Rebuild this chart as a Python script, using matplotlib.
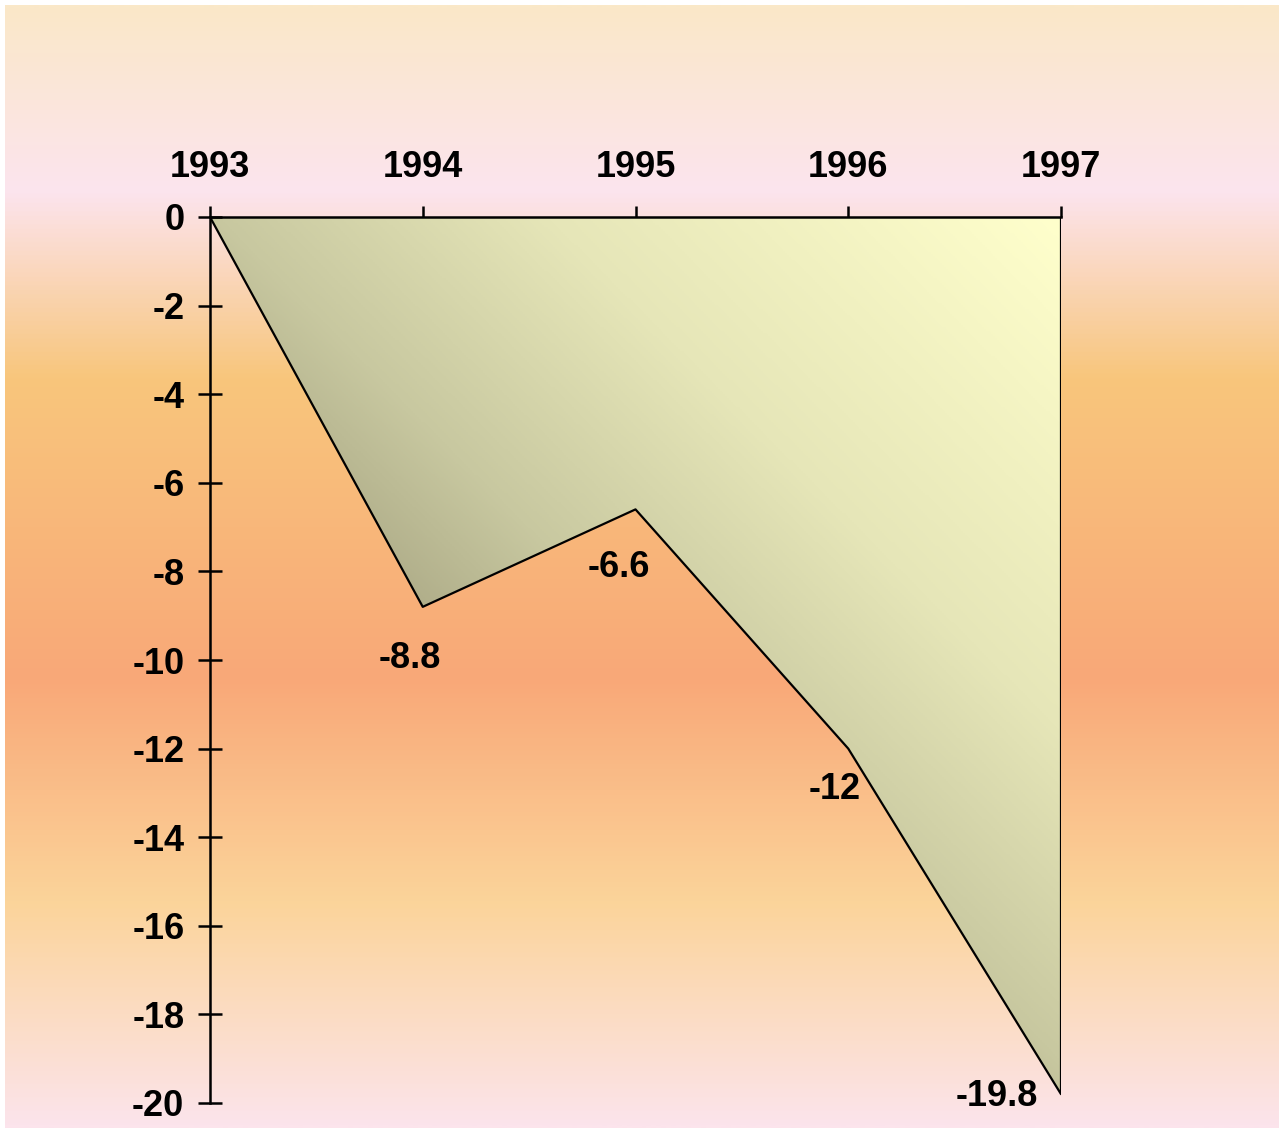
import numpy as np
import matplotlib.pyplot as plt
from matplotlib.colors import LinearSegmentedColormap

# data
years = [1993, 1994, 1995, 1996, 1997]
values = [0, -8.8, -6.6, -12, -19.8]
point_labels = ["", "-8.8", "-6.6", "-12", "-19.8"]
y_ticks = list(range(0, -21, -2))

plt.rcParams["font.family"] = ["Liberation Sans", "DejaVu Sans"]
plt.rcParams["font.weight"] = "bold"

W, H = 1284, 1133
fig = plt.figure(figsize=(W / 100, H / 100), dpi=100, facecolor="white")

# background gradient (vertical bands)
bg = fig.add_axes([5 / W, 5 / H, 1274 / W, 1123 / H], zorder=0)
bg_stops = [(0.0, "#FAE8C8"), (185 / 1123, "#FCE4EE"), (372 / 1123, "#F8C67C"),
            (674 / 1123, "#F9A878"), (898 / 1123, "#FBD49A"), (1.0, "#FCE4EC")]
bg_cmap = LinearSegmentedColormap.from_list("bg", bg_stops)
bg.imshow(np.linspace(0, 1, 512).reshape(-1, 1), aspect="auto", cmap=bg_cmap,
          extent=[0, 1, 1, 0])
bg.axis("off")

ax = fig.add_axes([210 / W, 30 / H, 851 / W, 886 / H], zorder=1)
ax.patch.set_alpha(0)
ax.set_xlim(1993, 1997)
ax.set_ylim(-20, 0)

# area with diagonal gradient (dark lower-left -> light upper-right)
fill = ax.fill_between(years, values, 0, facecolor="none", edgecolor="none")
xs = np.linspace(1993, 1997, 400)
ys = np.linspace(0, -20, 400)
X, Y = np.meshgrid(xs, ys)
proj = 210 + (X - 1993) * 212.75 - (217 - Y * 44.3)
fill_cmap = LinearSegmentedColormap.from_list(
    "fill", [(0.0, "#B0AE8A"), (190 / 1034, "#C8C8A0"), (520 / 1034, "#E6E6B8"),
             (1.0, "#FFFFCC")])
img = ax.imshow((proj + 190) / 1034, cmap=fill_cmap, vmin=0, vmax=1, aspect="auto",
                extent=[1993, 1997, -20, 0], origin="upper", zorder=1)
img.set_clip_path(fill.get_paths()[0], transform=ax.transData)
ax.plot(years + [1997], values + [0], color="black", lw=1.6, zorder=2)

# labels
offsets = [(0, 0), (-13, -52), (-17, -58), (-14, -41), (-64, -2)]
for x, v, lab, off in zip(years, values, point_labels, offsets):
    if lab:
        ax.annotate(lab, (x, v), xytext=(off[0] * 0.72, off[1] * 0.72),
                    textcoords="offset points", ha="center", va="center",
                    fontsize=26, fontweight="bold")

ax.spines["bottom"].set_visible(False)
ax.spines["right"].set_visible(False)
for s in ("left", "top"):
    ax.spines[s].set_linewidth(1.8)
    ax.spines[s].set_zorder(3)
ax.xaxis.set_ticks_position("top")
ax.set_xticks(years)
ax.set_xticklabels([str(y) for y in years])
ax.set_yticks(y_ticks)
ax.set_yticklabels([str(t) for t in y_ticks])
ax.tick_params(axis="x", direction="out", length=8, width=1.8, pad=15, labelsize=26)
ax.tick_params(axis="y", direction="inout", length=17, width=1.8, pad=10, labelsize=26)

fig.savefig("out.png", dpi=100, facecolor="white")
